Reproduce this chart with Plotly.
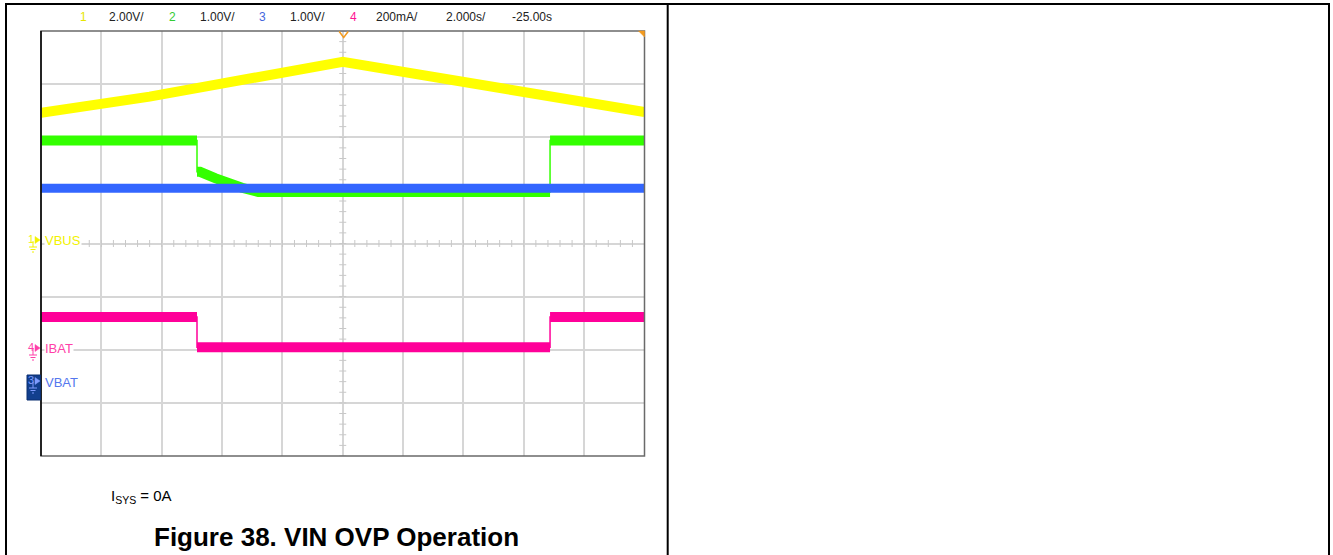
import numpy as np
import plotly.graph_objects as go

# ---------------- data ----------------
# time in seconds from left edge of screen (2 s/div, 10 div)
t_vbus = [0.0, 3.6, 10.0, 15.2, 20.0]
vbus_v = [4.92, 5.53, 6.84, 5.86, 4.95]            # CH1, V

t_vsys = [0.0, 5.17, 5.17, 5.27, 5.77, 6.26, 6.66, 7.2, 16.87, 16.87, 20.0]
vsys_v = [4.57, 4.57, 3.98, 3.98, 3.86, 3.75, 3.68, 3.60, 3.60, 4.57, 4.57]  # CH2, V

t_vbat = [0.0, 20.0]
vbat_v = [3.67, 3.67]                              # CH3, V

t_ibat = [0.0, 5.17, 5.17, 16.87, 16.87, 20.0]
ibat_ma = [119, 119, 5, 5, 119, 119]               # CH4, mA

header_items = ["1", "2.00V/", "2", "1.00V/", "3", "1.00V/", "4", "200mA/", "2.000s/", "-25.00s"]
channel_labels = ["VBUS", "IBAT", "VBAT"]
note_text = "I<sub>SYS</sub> = 0A"
title_text = "Figure 38. VIN OVP Operation"

# ---------------- channel settings (scale per div, ground offset in div) ----
ch_scale = {"1": 2.0, "2": 1.0, "3": 1.0, "4": 200.0}
ch_offset = {"1": 0.0, "2": -2.63, "3": -2.63, "4": -1.98}
ch_color = {"1": "#ffff00", "2": "#33ff00", "3": "#3366ff", "4": "#ff0099"}

W, H = 1333, 555
PL, PR, PT, PB = 41, 644.5, 31, 456


def px(x, y):
    return x / W, 1 - y / H


def to_div(vals, ch):
    return [v / ch_scale[ch] + ch_offset[ch] for v in vals]


def thick_parts(t, y):
    xs, ys = [], []
    for i in range(len(t)):
        if i > 0 and t[i] == t[i - 1]:
            xs.append(None)
            ys.append(None)
        xs.append(t[i])
        ys.append(y[i])
    return xs, ys


fig = go.Figure()

# graticule minor ticks on centre lines
minor_t = np.arange(0, 20.001, 0.4)
minor_v = np.arange(-4, 4.001, 0.2)
fig.add_trace(go.Scatter(x=minor_t, y=[0] * len(minor_t), mode="markers",
                         marker=dict(symbol="line-ns", size=5, line=dict(width=1, color="#c8c8c8")),
                         hoverinfo="skip", showlegend=False))
fig.add_trace(go.Scatter(x=[10] * len(minor_v), y=minor_v, mode="markers",
                         marker=dict(symbol="line-ew", size=5, line=dict(width=1, color="#c8c8c8")),
                         hoverinfo="skip", showlegend=False))

series = [
    ("1", t_vbus, vbus_v, 10),
    ("2", t_vsys, vsys_v, 10),
    ("3", t_vbat, vbat_v, 9),
    ("4", t_ibat, ibat_ma, 10),
]
for ch, t, v, w in series:
    yd = to_div(v, ch)
    fig.add_trace(go.Scatter(x=t, y=yd, mode="lines",
                             line=dict(color=ch_color[ch], width=1.5),
                             hoverinfo="skip", showlegend=False))
    xs, ys = thick_parts(t, yd)
    fig.add_trace(go.Scatter(x=xs, y=ys, mode="lines",
                             line=dict(color=ch_color[ch], width=w),
                             connectgaps=False, hoverinfo="skip", showlegend=False))

shapes = []
# outer table borders
for (x0, y0, x1, y1) in [(6, 4, 6, 555), (5, 4, 1330, 4), (667.7, 4, 667.7, 555), (1329, 4, 1329, 555)]:
    a, b = px(x0, y0)
    c, d = px(x1, y1)
    shapes.append(dict(type="line", xref="paper", yref="paper", x0=a, y0=b, x1=c, y1=d,
                       line=dict(color="black", width=2)))
# plot frame
a, b = px(PL, PT)
c, d = px(PR, PB)
shapes.append(dict(type="rect", xref="paper", yref="paper", x0=a, y0=d, x1=c, y1=b,
                   line=dict(color="#6a6a6a", width=1.5)))
shapes.append(dict(type="line", xref="paper", yref="paper", x0=a, y0=d, x1=a, y1=b,
                   line=dict(color="black", width=1.5)))


def path_px(points, close=False):
    s = ""
    for i, (x, y) in enumerate(points):
        xp, yp = px(x, y)
        s += ("M" if i == 0 else "L") + f"{xp:.6f},{yp:.6f} "
    if close:
        s += "Z"
    return s


# trigger marker (top centre) and corner marker
shapes.append(dict(type="path", xref="paper", yref="paper",
                   path=path_px([(339.2, 31.5), (343.7, 37.5), (348.2, 31.5)]),
                   line=dict(color="#f39a1e", width=1.5)))
shapes.append(dict(type="path", xref="paper", yref="paper",
                   path=path_px([(638.5, 31), (644.5, 31), (644.5, 37)], close=True),
                   fillcolor="#f39a1e", line=dict(color="#f39a1e", width=0.5)))

# blue box behind CH3 marker
a, b = px(27, 375)
c, d = px(40.5, 400)
shapes.append(dict(type="rect", xref="paper", yref="paper", x0=a, y0=d, x1=c, y1=b,
                   fillcolor="#123f8e", line=dict(color="#0b2f70", width=1)))


def ground_marker(yc, color):
    out = []
    out.append(dict(type="path", xref="paper", yref="paper",
                    path=path_px([(35, yc - 3.5), (40, yc), (35, yc + 3.5)], close=True),
                    fillcolor=color, line=dict(color=color, width=0.5)))
    for (x0, y0, x1, y1) in [(33, yc + 1, 33, yc + 7), (29, yc + 7, 37, yc + 7),
                             (30.5, yc + 9.5, 35.5, yc + 9.5), (32, yc + 12, 34, yc + 12)]:
        p, q = px(x0, y0)
        r, s = px(x1, y1)
        out.append(dict(type="line", xref="paper", yref="paper", x0=p, y0=q, x1=r, y1=s,
                        line=dict(color=color, width=1)))
    return out


shapes += ground_marker(240, "#f2f200")
shapes += ground_marker(348, "#ff3fa8")
shapes += ground_marker(381, "#7f9cff")

annotations = []
narrow = "Liberation Sans Narrow, Arial Narrow, Liberation Sans, Arial, sans-serif"
hdr_x = [83, 126, 172, 217, 262, 307, 353, 397, 466, 532]
hdr_col = ["#e6e600", "#222", "#33cc33", "#222", "#4466dd", "#222", "#ff1493", "#222", "#222", "#222"]
for txt, x, col in zip(header_items, hdr_x, hdr_col):
    xp, yp = px(x, 17)
    annotations.append(dict(text=txt, x=xp, y=yp, xref="paper", yref="paper", showarrow=False,
                            xanchor="center", yanchor="middle",
                            font=dict(family=narrow, size=12, color=col)))

for txt, yc, col in zip(channel_labels, [240, 348, 383], ["#f2f200", "#ff3fa8", "#5577ee"]):
    xp, yp = px(43.5, yc)
    annotations.append(dict(text=txt, x=xp, y=yp, xref="paper", yref="paper", showarrow=False,
                            xanchor="left", yanchor="middle", bgcolor="white", borderpad=0,
                            font=dict(family=narrow, size=13, color=col)))
for txt, yc, col in zip(["1", "4", "3"], [239, 347, 380], ["#f2f200", "#ff3fa8", "#7f9cff"]):
    xp, yp = px(30.5, yc)
    annotations.append(dict(text=txt, x=xp, y=yp, xref="paper", yref="paper", showarrow=False,
                            xanchor="center", yanchor="middle",
                            font=dict(family=narrow, size=11, color=col)))

xp, yp = px(109, 496)
annotations.append(dict(text=note_text, x=xp, y=yp, xref="paper", yref="paper", showarrow=False,
                        xanchor="left", yanchor="middle",
                        font=dict(family="Liberation Sans, Arial, sans-serif", size=15, color="black")))
xp, yp = px(337, 537)
annotations.append(dict(text="<b>" + title_text + "</b>", x=xp, y=yp, xref="paper", yref="paper",
                        showarrow=False, xanchor="center", yanchor="middle",
                        font=dict(family="Liberation Sans, Arial, sans-serif", size=26, color="black")))

fig.update_layout(
    width=W, height=H, autosize=False,
    margin=dict(l=0, r=0, t=0, b=0),
    paper_bgcolor="white", plot_bgcolor="white",
    showlegend=False,
    xaxis=dict(domain=[PL / W, PR / W], range=[0, 20], dtick=2, tick0=0,
               showgrid=True, gridcolor="#d6d6d6", gridwidth=1.5,
               zeroline=False, showticklabels=False, ticks="", showline=False, fixedrange=True),
    yaxis=dict(domain=[1 - PB / H, 1 - PT / H], range=[-4, 4], dtick=1, tick0=0,
               showgrid=True, gridcolor="#d6d6d6", gridwidth=1.5,
               zeroline=False, showticklabels=False, ticks="", showline=False, fixedrange=True),
    shapes=shapes,
    annotations=annotations,
)

fig.write_html("out.html", config={"displayModeBar": False},
               post_script="document.body.style.margin='0';document.body.style.overflow='hidden';")
